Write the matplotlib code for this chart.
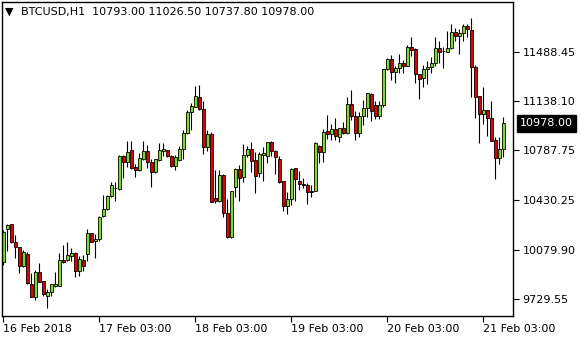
import numpy as np
import pandas as pd
import matplotlib
matplotlib.use("Agg")
import matplotlib.pyplot as plt
import matplotlib.transforms as mtransforms

# BTCUSD H1 candles
opens = [9993, 10226, 10259, 10135, 10096, 9965, 10048, 9834, 9744, 9922,
         9856, 9751, 9775, 9820, 9822, 10005, 10005, 10036, 10057, 9929,
         10005, 10046, 10195, 10140, 10155, 10321, 10366, 10461, 10518, 10513,
         10746, 10701, 10786, 10665, 10648, 10727, 10781, 10701, 10630, 10715,
         10783, 10786, 10748, 10677, 10715, 10793, 10907, 11057, 11097, 11164,
         11078, 10812, 10900, 10444, 10427, 10608, 10338, 10167, 10523, 10653,
         10594, 10753, 10796, 10717, 10627, 10753, 10748, 10843, 10783, 10724,
         10566, 10392, 10437, 10658, 10566, 10546, 10537, 10499, 10499, 10819,
         10776, 10924, 10902, 10936, 10883, 10943, 10907, 11114, 11033, 10912,
         11033, 11085, 11187, 11109, 11033, 11109, 11363, 11434, 11342, 11370,
         11406, 11389, 11520, 11508, 11327, 11299, 11363, 11377, 11406, 11512,
         11491, 11488, 11512, 11626, 11602, 11619, 11671, 11643, 11377, 11173,
         11043, 11073, 11014, 10860, 10729, 10793]
highs = [10219, 10261, 10262, 10181, 10098, 10076, 10064, 9910, 9934, 9986,
         9858, 9797, 9836, 9918, 10057, 10112, 10131, 10088, 10059, 10034,
         10041, 10224, 10197, 10188, 10318, 10468, 10468, 10563, 10563, 10753,
         10753, 10852, 10852, 10691, 10769, 10852, 10824, 10722, 10724, 10836,
         10836, 10788, 10750, 10753, 10817, 10931, 11073, 11121, 11246, 11251,
         11137, 10931, 10914, 10646, 10646, 10617, 10439, 10496, 10662, 10682,
         10829, 10819, 10843, 10772, 10776, 10812, 10845, 10855, 10785, 10746,
         10568, 10492, 10658, 10662, 10639, 10587, 10556, 10539, 10847, 10821,
         10936, 11038, 10971, 11018, 10945, 10986, 11164, 11216, 11066, 11061,
         11144, 11194, 11192, 11137, 11137, 11365, 11446, 11465, 11386, 11470,
         11429, 11536, 11591, 11517, 11329, 11394, 11424, 11453, 11591, 11564,
         11524, 11636, 11683, 11655, 11650, 11683, 11683, 11726, 11394, 11175,
         11235, 11075, 11137, 10883, 10883, 11026.5]
lows = [9970, 10071, 10128, 10017, 9910, 9953, 9837, 9742, 9720, 9849,
        9751, 9661, 9751, 9811, 9820, 9987, 10000, 10000, 9886, 9893,
        9929, 10000, 10133, 10017, 10143, 10313, 10361, 10456, 10427, 10504,
        10587, 10665, 10653, 10598, 10641, 10717, 10662, 10527, 10628, 10712,
        10746, 10736, 10670, 10648, 10712, 10722, 10902, 10931, 11092, 11073,
        10758, 10781, 10418, 10409, 10420, 10313, 10165, 10165, 10452, 10427,
        10563, 10736, 10630, 10484, 10598, 10570, 10694, 10746, 10617, 10556,
        10356, 10331, 10397, 10425, 10504, 10516, 10404, 10456, 10497, 10698,
        10705, 10867, 10860, 10860, 10847, 10902, 10902, 11002, 10860, 10879,
        10966, 11025, 10997, 11009, 11009, 11097, 11358, 11287, 11268, 11334,
        11339, 11386, 11458, 11268, 11149, 11239, 11256, 11339, 11386, 11406,
        11370, 11486, 11507, 11567, 11470, 11564, 11595, 11168, 11018, 10840,
        10971, 10888, 10850, 10580, 10689, 10737.8]
closes = [10207, 10254, 10135, 10096, 9965, 10060, 9839, 9744, 9922, 9851,
          9763, 9775, 9834, 9832, 10005, 9989, 10041, 10057, 9929, 10012,
          9965, 10195, 10135, 10155, 10309, 10366, 10461, 10539, 10516, 10746,
          10701, 10776, 10662, 10648, 10729, 10781, 10701, 10630, 10722, 10786,
          10796, 10746, 10677, 10736, 10796, 10907, 11057, 11102, 11173, 11078,
          10812, 10900, 10420, 10427, 10608, 10338, 10167, 10494, 10653, 10587,
          10753, 10796, 10712, 10605, 10758, 10765, 10843, 10783, 10741, 10558,
          10392, 10437, 10651, 10580, 10544, 10537, 10492, 10492, 10836, 10772,
          10919, 10902, 10936, 10888, 10943, 10907, 11114, 11033, 10912, 11033,
          11085, 11192, 11068, 11033, 11109, 11363, 11434, 11342, 11370, 11406,
          11389, 11520, 11500, 11327, 11292, 11363, 11377, 11410, 11512, 11488,
          11490, 11512, 11626, 11602, 11619, 11671, 11648, 11377, 11168, 11043,
          11073, 11014, 10852, 10729, 10793, 10978]

ytick_vals = [9729.55, 10079.90, 10430.25, 10787.75, 11138.10, 11488.45]
date_labels = ["16 Feb 2018", "17 Feb 03:00", "18 Feb 03:00",
               "19 Feb 03:00", "20 Feb 03:00", "21 Feb 03:00"]
title = "BTCUSD,H1  10793.00 11026.50 10737.80 10978.00"
last_price = 10978.00

o = np.array(opens, dtype=float)
h = np.array(highs, dtype=float)
l = np.array(lows, dtype=float)
c = np.array(closes, dtype=float)
x = np.arange(len(o))
times = pd.date_range("2018-02-16 03:00", periods=len(o), freq="h")
tick_pos = x[times.hour == 3]

green = "#80e000"
red = "#e00000"

plt.rcParams["font.family"] = "DejaVu Sans"
fig = plt.figure(figsize=(5.8, 3.4), dpi=100)
ax = fig.add_axes([2 / 580, 24 / 340, 511 / 580, 314 / 340])

up = c >= o
ax.vlines(x, l, h, color="black", lw=0.8, zorder=1)
body = np.maximum(np.abs(c - o), 2)
ax.bar(x, body, bottom=np.minimum(o, c), width=0.6,
       color=np.where(up, green, red), edgecolor="black", linewidth=0.6, zorder=2)

ax.set_xlim(-0.33, 127.4)
ax.set_ylim(9606.5, 11842.2)

ax.yaxis.tick_right()
ax.set_yticks(ytick_vals)
ax.set_yticklabels([f"{v:.2f}" for v in ytick_vals])
ax.set_xticks(tick_pos)
ax.set_xticklabels(date_labels[:len(tick_pos)])
for lbl in ax.get_xticklabels():
    lbl.set_horizontalalignment("left")
ax.tick_params(axis="y", direction="out", length=4, width=0.8, pad=3, labelsize=8)
ax.tick_params(axis="x", direction="out", length=4, width=0.8, pad=2, labelsize=8)
for s in ax.spines.values():
    s.set_linewidth(1.0)
    s.set_color("black")

# current price tag on the right scale
trans = mtransforms.blended_transform_factory(ax.transAxes, ax.transData)
ax.text(1 + 7 / 511, last_price, f"{last_price:.2f}", transform=trans,
        ha="left", va="center", fontsize=8, color="white",
        bbox=dict(boxstyle="square,pad=0.3", fc="black", ec="black"))

fig.text(9.5 / 580, 1 - 12 / 340, "▼", ha="center", va="center", fontsize=8)
fig.text(21 / 580, 1 - 12 / 340, title, ha="left", va="center", fontsize=8)

fig.savefig("out.png", dpi=100)
